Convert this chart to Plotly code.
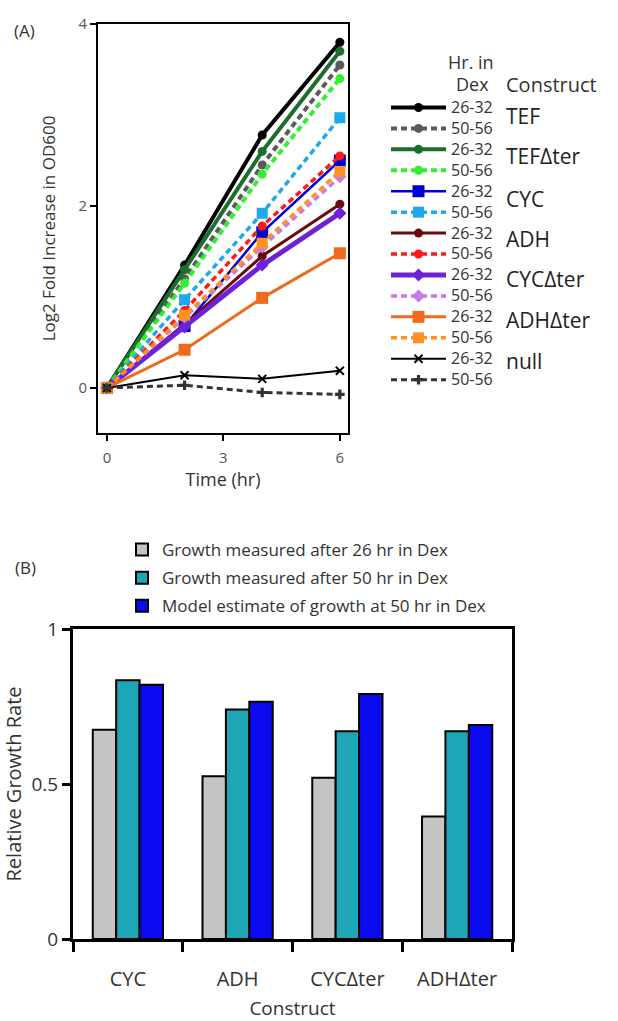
import plotly.graph_objects as go

# ---------------- Panel A data ----------------
hours = [0, 2, 4, 6]
constructs = ["TEF", "TEFΔter", "CYC", "ADH", "CYCΔter", "ADHΔter", "null"]
periods = ["26-32", "50-56"]

tef_26 = [0, 1.35, 2.78, 3.80]
tef_50 = [0, 1.20, 2.45, 3.55]
tefdter_26 = [0, 1.30, 2.60, 3.70]
tefdter_50 = [0, 1.15, 2.35, 3.40]
cyc_26 = [0, 0.68, 1.71, 2.50]
cyc_50 = [0, 0.97, 1.92, 2.97]
adh_26 = [0, 0.70, 1.45, 2.02]
adh_50 = [0, 0.85, 1.78, 2.55]
cycdter_26 = [0, 0.67, 1.35, 1.92]
cycdter_50 = [0, 0.78, 1.55, 2.32]
adhdter_26 = [0, 0.42, 0.99, 1.48]
adhdter_50 = [0, 0.80, 1.59, 2.38]
null_26 = [0, 0.14, 0.10, 0.19]
null_50 = [0, 0.03, -0.05, -0.07]

# ---------------- Panel B data ----------------
bar_constructs = ["CYC", "ADH", "CYCΔter", "ADHΔter"]
growth_26 = [0.675, 0.525, 0.52, 0.395]
growth_50 = [0.835, 0.74, 0.67, 0.67]
model_50 = [0.82, 0.765, 0.79, 0.69]
bar_names = ["Growth measured after 26 hr in Dex",
             "Growth measured after 50 hr in Dex",
             "Model estimate of growth at 50 hr in Dex"]

W, H = 618, 1021
FONT = "Open Sans"
TXT = "#222222"

series = [
    (tef_26, "#000000", "solid", "circle", 9, 4),
    (tef_50, "#5a5a5a", "dash", "circle", 9, 4),
    (tefdter_26, "#1b6e2c", "solid", "circle", 9, 4),
    (tefdter_50, "#33ee33", "dash", "circle", 9, 4),
    (cyc_26, "#0000d0", "solid", "square", 12, 2.5),
    (cyc_50, "#1eaaea", "dash", "square", 11, 3.5),
    (adh_26, "#6a0a0a", "solid", "circle", 9, 3),
    (adh_50, "#ff1a1a", "dash", "circle", 9, 3.5),
    (cycdter_26, "#6e22d8", "solid", "diamond", 10, 5),
    (cycdter_50, "#c77ae8", "dash", "diamond", 10, 3.5),
    (adhdter_26, "#ee6a1c", "solid", "square", 12, 3),
    (adhdter_50, "#ff9222", "dash", "square", 11, 3.5),
    (null_26, "#000000", "solid", "x-thin-open", 8, 2),
    (null_50, "#333333", "dash", "cross", 8, 3),
]

fig = go.Figure()

for i, (vals, col, dash, sym, sz, lw) in enumerate(series):
    fig.add_trace(go.Scatter(
        x=hours, y=vals, mode="lines+markers",
        name='<span style="font-size:16px">' + periods[i % 2] + "</span>",
        line=dict(color=col, width=lw, dash="6px,4px" if dash == "dash" else "solid"),
        marker=dict(symbol=sym, size=sz, color=col,
                    line=dict(color=col, width=2 if "thin" in sym else 0)),
        xaxis="x", yaxis="y", legend="legend",
    ))

bar_colors = ["#c4c4c4", "#1ea6b6", "#0a0af0"]
for name, vals, col in zip(bar_names, [growth_26, growth_50, model_50], bar_colors):
    fig.add_trace(go.Bar(
        x=bar_constructs, y=vals, name=name,
        marker=dict(color=col, line=dict(color="#000000", width=2)),
        xaxis="x2", yaxis="y2", legend="legend2", legendgroup=name,
    ))

ax_common = dict(showgrid=False, zeroline=False, linecolor="#000000", mirror=True,
                 ticks="outside", tickcolor="#000000", automargin=False)

fig.update_layout(
    width=W, height=H,
    margin=dict(l=0, r=0, t=0, b=0, autoexpand=False),
    paper_bgcolor="white", plot_bgcolor="white",
    font=dict(family=FONT, color=TXT),
    barmode="group", bargap=0.36, bargroupgap=0,
    xaxis=dict(domain=[98 / W, 348 / W], anchor="y", range=[-0.23, 6.21],
               tickvals=[0, 3, 6], ticklen=6, linewidth=2, tickwidth=2,
               tickfont=dict(size=15, color="#555555"), ticklabelstandoff=4,
               title=dict(text="Time (hr)", font=dict(size=18, color="#333333"), standoff=4),
               **ax_common),
    yaxis=dict(domain=[1 - 433 / H, 1 - 24 / H], anchor="x", range=[-0.495, 4],
               tickvals=[0, 2, 4], ticklen=6, linewidth=2, tickwidth=2,
               tickfont=dict(size=15, color="#555555"),
               title=dict(text="Log2 Fold Increase in OD600", font=dict(size=17, color="#333333"), standoff=18),
               **ax_common),
    xaxis2=dict(domain=[73 / W, 512 / W], anchor="y2", type="category",
                tickson="boundaries", ticklen=10, linewidth=3, tickwidth=3,
                tickfont=dict(size=20, color="#333333"), ticklabelstandoff=20,
                title=dict(text="Construct", font=dict(size=19, color="#333333"), standoff=14),
                **ax_common),
    yaxis2=dict(domain=[1 - 939 / H, 1 - 629 / H], anchor="x2", range=[0, 1],
                tickvals=[0, 0.5, 1], ticktext=["0", "0.5", "1"], ticklen=8, linewidth=3, tickwidth=3,
                tickfont=dict(size=19, color="#333333"),
                title=dict(text="Relative Growth Rate", font=dict(size=20, color="#333333"), standoff=12),
                **ax_common),
    legend=dict(x=386 / W, y=1 - 92 / H, xanchor="left", yanchor="top",
                font=dict(size=13.8, color="#333333"), itemwidth=55,
                bgcolor="rgba(0,0,0,0)", traceorder="normal", tracegroupgap=0),
    legend2=dict(x=122 / W, y=1 - 532 / H, xanchor="left", yanchor="top",
                 font=dict(size=17, color="#333333"), bgcolor="rgba(0,0,0,0)",
                 traceorder="grouped", tracegroupgap=3.0),
)

ann = []
ann.append(dict(text="(A)", x=12 / W, y=1 - 31 / H, xref="paper", yref="paper",
                xanchor="left", yanchor="middle", showarrow=False, font=dict(size=17, color="#333333")))
ann.append(dict(text="(B)", x=13 / W, y=1 - 567 / H, xref="paper", yref="paper",
                xanchor="left", yanchor="middle", showarrow=False, font=dict(size=17, color="#333333")))
ann.append(dict(text="Hr. in", x=471 / W, y=1 - 62 / H, xref="paper", yref="paper",
                xanchor="center", yanchor="middle", showarrow=False, font=dict(size=18, color="#333333")))
ann.append(dict(text="Dex", x=472 / W, y=1 - 84 / H, xref="paper", yref="paper",
                xanchor="center", yanchor="middle", showarrow=False, font=dict(size=18, color="#333333")))
ann.append(dict(text="Construct", x=504 / W, y=1 - 84 / H, xref="paper", yref="paper",
                xanchor="left", yanchor="middle", showarrow=False, font=dict(size=20, color="#333333")))
label_y = [116, 156, 199, 239, 279, 320, 361]
for name, yy in zip(constructs, label_y):
    ann.append(dict(text=name, x=504 / W, y=1 - yy / H, xref="paper", yref="paper",
                    xanchor="left", yanchor="middle", showarrow=False,
                    font=dict(size=21, color="#222222")))
fig.update_layout(annotations=ann)

fig.write_html("out.html")
